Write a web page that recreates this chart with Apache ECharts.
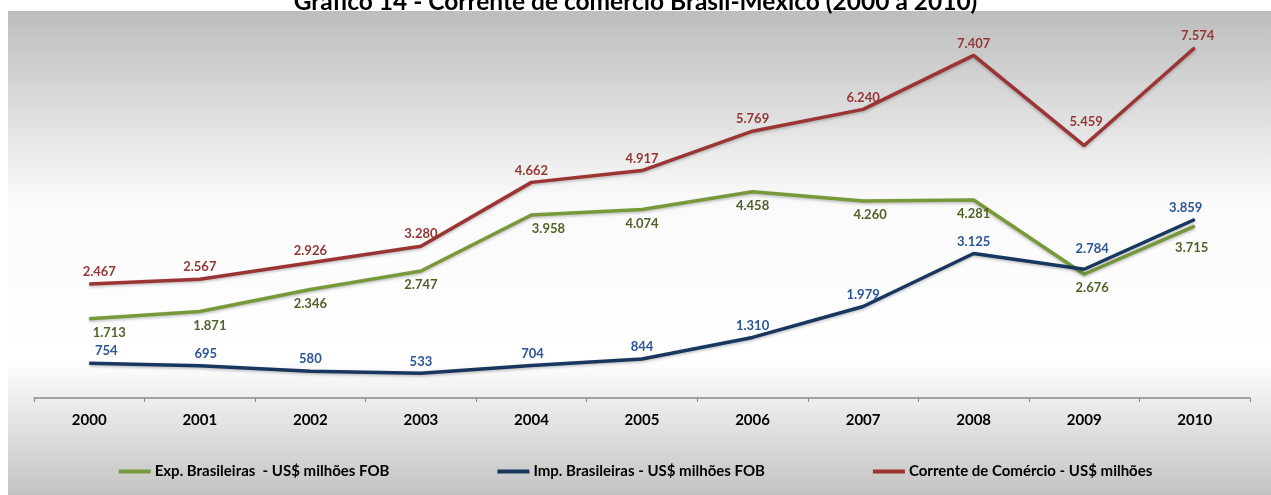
<!DOCTYPE html>
<html>
<head>
<meta charset="utf-8">
<script src="https://cdn.jsdelivr.net/npm/echarts@6/dist/echarts.min.js"></script>
<style>
  html, body { margin: 0; padding: 0; background: #fff; }
  #main { width: 1271px; height: 495px; }
</style>
</head>
<body>
<div id="main"></div>
<script>
// dados (US$ milhões)
var anos = ["2000", "2001", "2002", "2003", "2004", "2005", "2006", "2007", "2008", "2009", "2010"];
var exportacoes = [1713, 1871, 2346, 2747, 3958, 4074, 4458, 4260, 4281, 2676, 3715];
var importacoes = [754, 695, 580, 533, 704, 844, 1310, 1979, 3125, 2784, 3859];
var corrente = [2467, 2567, 2926, 3280, 4662, 4917, 5769, 6240, 7407, 5459, 7574];

var FONT = "Lato, 'Open Sans', sans-serif";

// formato brasileiro: 1.713
function fmt(v) {
  return String(v).replace(/\B(?=(\d{3})+(?!\d))/g, ".");
}

// ajustes de rótulo por ponto (índice -> offset)
var offExp = { 0: [20, 0], 1: [10, 0], 4: [17, 0], 7: [7, 0], 9: [8, 0], 10: [-3, 8] };
var offImp = { 0: [17, 0], 1: [6, 0], 4: [1, 0], 9: [8, -8], 10: [-9, 0] };
var offCor = { 0: [10, 0], 9: [2, -12], 10: [3, 0] };

function buildData(values, offsets) {
  return values.map(function (v, i) {
    var item = { value: v };
    if (offsets[i]) item.label = { offset: offsets[i] };
    return item;
  });
}

function serie(name, values, lineColor, labelColor, pos, offsets) {
  return {
    name: name,
    type: "line",
    data: buildData(values, offsets),
    symbol: "circle",
    symbolSize: 1,
    showSymbol: true,
    lineStyle: {
      color: lineColor,
      width: 3.5,
      shadowColor: "rgba(0,0,0,0.25)",
      shadowBlur: 3,
      shadowOffsetY: 1.5,
    },
    itemStyle: { color: lineColor },
    label: {
      show: true,
      position: pos,
      distance: pos == "top" ? 5 : 7,
      color: labelColor,
      fontFamily: FONT,
      fontWeight: "bold",
      fontSize: 13,
      formatter: function (p) {
        return fmt(p.value);
      },
    },
    emphasis: { disabled: true },
  };
}

var myChart = echarts.init(document.getElementById("main"));
myChart.setOption({
  animation: false,
  title: {
    text: "Gráfico 14 - Corrente de comércio Brasil-México (2000 a 2010)",
    left: "center",
    top: -15,
    textStyle: {
      fontFamily: FONT,
      fontWeight: "bold",
      fontSize: 24.5,
      color: "#000",
    },
  },
  graphic: [
    {
      type: "rect",
      silent: true,
      z: -10,
      shape: { x: 8, y: 11, width: 1263, height: 484 },
      style: {
        fill: {
          type: "linear",
          x: 0, y: 0, x2: 0, y2: 1,
          colorStops: [
            { offset: 0, color: "#bdbdbd" },
            { offset: 0.39, color: "#fafafa" },
            { offset: 0.72, color: "#ffffff" },
            { offset: 1, color: "#c3c3c3" },
          ],
        },
      },
    },
  ],
  legend: {
    left: "center",
    top: 459,
    itemGap: 108,
    itemWidth: 32,
    itemHeight: 4,
    icon: "rect",
    textStyle: {
      fontFamily: FONT,
      fontWeight: "bold",
      fontSize: 15,
      color: "#000",
      padding: [0, 0, 0, -1],
    },
    data: [
      "Exp. Brasileiras  - US$ milhões FOB",
      "Imp. Brasileiras - US$ milhões FOB",
      "Corrente de Comércio - US$ milhões",
    ],
  },
  grid: {
    left: 34,
    right: 21,
    top: 28,
    height: 370,
    containLabel: false,
  },
  xAxis: {
    type: "category",
    data: anos,
    boundaryGap: true,
    axisLine: { lineStyle: { color: "#8a8a8a", width: 1.5 } },
    axisTick: { show: true, length: 4, lineStyle: { color: "#8a8a8a", width: 1 } },
    axisLabel: {
      margin: 15,
      color: "#000",
      fontFamily: FONT,
      fontWeight: "bold",
      fontSize: 15,
    },
  },
  yAxis: {
    type: "value",
    min: 0,
    max: 8000,
    show: false,
    splitLine: { show: false },
  },
  series: [
    serie("Exp. Brasileiras  - US$ milhões FOB", exportacoes, "#77993a", "#4f6228", "bottom", offExp),
    serie("Imp. Brasileiras - US$ milhões FOB", importacoes, "#17375e", "#2b5597", "top", offImp),
    serie("Corrente de Comércio - US$ milhões", corrente, "#9b3533", "#953735", "top", offCor),
  ],
});
</script>
</body>
</html>
